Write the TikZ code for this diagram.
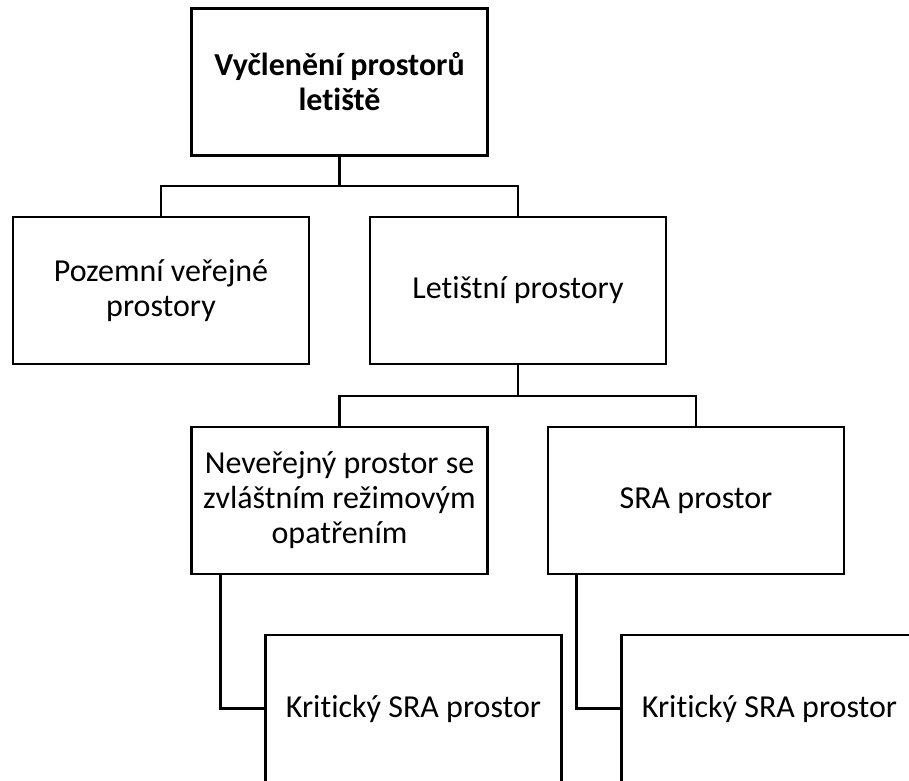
\documentclass[tikz,border=0pt]{standalone}
\usepackage{fontspec}
\setmainfont{Carlito}[Ligatures={NoCommon,NoContextual}]
\begin{document}
\begin{tikzpicture}[x=1pt,y=-1pt,
  box/.style={draw=black, line width=2.8pt, rectangle, align=center,
    minimum width=296pt, minimum height=147pt, inner sep=0pt,
    font=\fontsize{32}{35}\selectfont},
  link/.style={draw=black, line width=2.8pt, line join=miter}]
  % page frame
  \useasboundingbox (0,0) rectangle (909,780);
  \clip (0,0) rectangle (909,780);
  \fill[white] (0,0) rectangle (909,780);

  % boxes
  \node[box] (top)    at (339.5,82)    {\bfseries Vyčlenění prostorů\\\bfseries letiště};
  \node[box] (pub)    at (161,290.5)   {Pozemní veřejné\\prostory};
  \node[box] (air)    at (518,290.5)   {Letištní prostory};
  \node[box] (nonpub) at (339.5,500.5) {Neveřejný prostor se\\zvláštním režimovým\\opatřením};
  \node[box] (sra)    at (696,500.5)   {SRA prostor};
  \node[box] (crit1)  at (413.5,708.5) {Kritický SRA prostor};
  \node[box] (crit2)  at (769.5,708.5) {Kritický SRA prostor};

  % branch points
  \coordinate (bus1) at (339.5,186);
  \coordinate (bus2) at (518,396);

  % connectors
  \draw[link] (top.south) -- (bus1);
  \draw[link] (pub.north) |- (bus1) -| (air.north);
  \draw[link] (air.south) -- (bus2);
  \draw[link] (nonpub.north) |- (bus2) -| (sra.north);
  \draw[link] ([xshift=30pt]nonpub.south west) |- (crit1.west);
  \draw[link] ([xshift=30pt]sra.south west) |- (crit2.west);
\end{tikzpicture}
\end{document}
